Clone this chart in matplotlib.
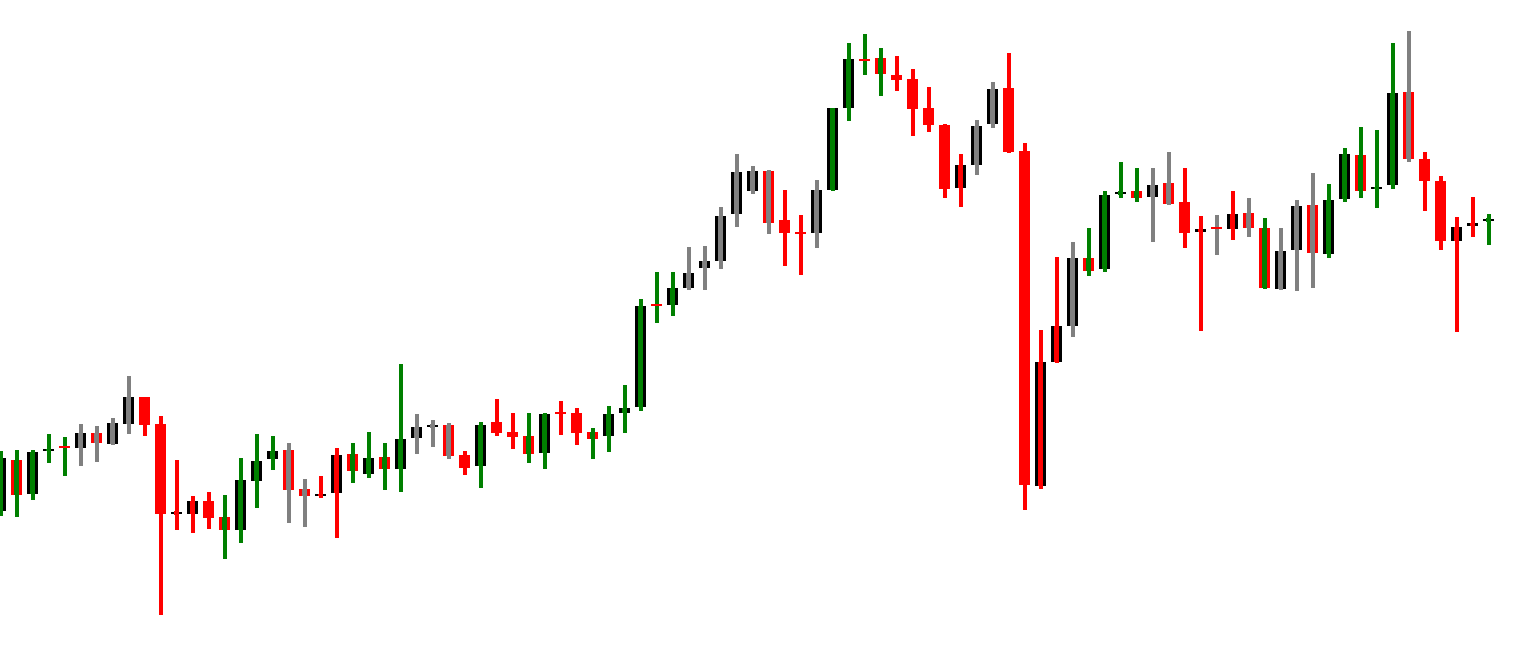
import matplotlib
matplotlib.use("Agg")
import matplotlib.pyplot as plt
from matplotlib.patches import Rectangle

# OHLC, one entry per bar
opens = [144, 195, 161, 204, 208.5, 207, 222, 211, 231, 258,
         231, 142, 141, 154, 138, 125, 174, 196, 205, 166,
         159, 162, 201, 181, 198, 186, 217, 229, 230, 200,
         189, 233, 223, 219, 202, 242.5, 242, 223, 219, 242,
         248, 350.5, 350, 367, 387, 394, 441, 464, 484, 435,
         422.5, 422, 465, 547, 595.5, 597, 580, 576, 547, 530,
         467, 490, 531, 567, 504, 169, 293, 329, 397, 386,
         462, 464, 458, 472, 453, 423, 427.5, 426, 442, 427,
         366, 405, 450, 401, 456, 500, 466, 470, 563, 496,
         474, 414, 429, 435]
highs = [204, 205, 205, 221, 218, 231, 229, 237, 279, 258,
         239, 195, 159, 163, 160, 197, 221, 219, 212, 176,
         179, 207, 212, 223, 212, 291, 241, 235, 232, 204,
         233, 256, 242, 242, 242, 254, 247, 227, 249, 270,
         356, 383, 383, 408, 409, 448, 501, 489, 485, 465,
         440, 475, 547, 612, 621, 607, 599, 586, 568, 531,
         501, 535, 573, 602, 512, 325, 398, 413, 427, 464,
         493, 487, 487, 503, 487, 439, 440, 464, 457, 437,
         427, 455, 482, 471, 507, 528, 525, 612, 624, 503,
         479, 438, 458, 441]
lows = [139, 138, 155, 192, 179, 189, 193, 210, 221, 219,
        40, 125, 122, 126, 96, 112, 147, 185, 132, 128,
        157, 117, 172, 177, 165, 163, 201, 208, 196, 180,
        167, 219, 206, 192, 186, 220, 210, 196, 203, 222,
        244, 332, 339, 365, 365, 386, 428, 461, 421, 389,
        380, 407, 464, 534, 580, 559, 564, 519, 523, 457,
        448, 480, 527, 502, 145, 166, 292, 318, 379, 383,
        457, 453, 413, 450, 407, 324, 400, 415, 418, 366,
        365, 364, 367, 397, 453, 457, 447, 466, 493, 444,
        405, 323, 418, 410]
closes = [197, 160, 203, 206, 208, 222, 212, 232, 258, 230,
          141, 142, 154, 137, 125, 175, 194, 204, 165, 159,
          161, 200, 184, 197, 186, 216, 228, 229, 199, 187,
          230, 222, 218, 201, 241, 242, 222, 216, 241, 247,
          349, 350, 367, 382, 394, 439, 483, 484, 432, 422,
          422, 465, 547, 596, 595, 581, 575, 546, 530, 466,
          490, 529, 566, 503, 170, 293, 329, 397, 384, 460,
          462, 457, 470, 451, 422, 426, 427, 441, 427, 367,
          404, 449, 402, 455, 501, 464, 468, 562, 496, 474,
          414, 428, 432, 435]
# colour of the inner bar and wick: g = green, y = grey, r = red
inner = list("gggggyyyyr" "rrrrggggyy"
             "rrggggyyyr" "grrggrrggg"
             "gggyyyyyyr" "ryggggrrrr"
             "ryyrrrrygg" "ggyyrryryg"
             "yyygggggyr" "rrrg")

COLORS = {"g": "#008000", "y": "#808080", "r": "#ff0000"}
OUTER_W = 11 / 16
INNER_W = 5 / 16

fig = plt.figure(figsize=(15.3, 6.55), dpi=100)
ax = fig.add_axes([0, 0, 1, 1])
ax.set_axis_off()

for i, (o, h, l, c, k) in enumerate(zip(opens, highs, lows, closes, inner)):
    up = c >= o
    col = COLORS[k]
    lo, hi = min(o, c), max(o, c)
    doji = hi - lo < 1.5

    ax.vlines(i, l, h, color=col, linewidth=1.5, antialiased=False, zorder=1)

    if doji:
        if up:
            ax.add_patch(Rectangle((i - OUTER_W / 2, lo - 1), OUTER_W, 2,
                                   facecolor="black", edgecolor="none",
                                   antialiased=False, zorder=2))
            ax.add_patch(Rectangle((i - INNER_W / 2, lo - 2), INNER_W, 4,
                                   facecolor=col, edgecolor="none",
                                   antialiased=False, zorder=3))
        else:
            ax.add_patch(Rectangle((i - OUTER_W / 2, lo - 0.6), OUTER_W, 1.2,
                                   facecolor="#ff0000", edgecolor="none",
                                   antialiased=False, zorder=2))
        continue

    ax.add_patch(Rectangle((i - OUTER_W / 2, lo), OUTER_W, hi - lo,
                           facecolor="black" if up else "#ff0000",
                           edgecolor="none", antialiased=False, zorder=2))
    ax.add_patch(Rectangle((i - INNER_W / 2, lo), INNER_W, hi - lo,
                           facecolor=col, edgecolor="none",
                           antialiased=False, zorder=3))

ax.set_xlim(-1 / 16, 1529 / 16)
ax.set_ylim(0, 655)

fig.savefig("out.png", dpi=100, facecolor="white")
